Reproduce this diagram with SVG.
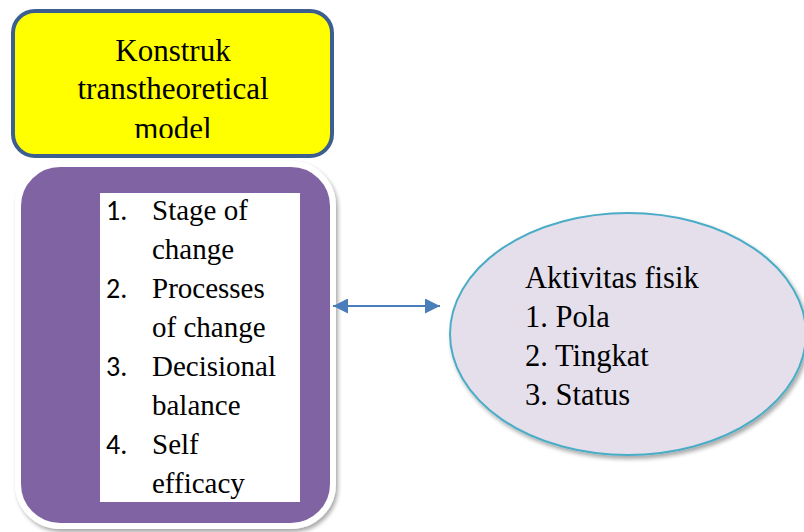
<svg xmlns="http://www.w3.org/2000/svg" width="804" height="532" viewBox="0 0 804 532">
<style>
text{fill:#000}
</style>
<defs>
<filter id="sh" x="-10%" y="-10%" width="130%" height="130%">
<feGaussianBlur in="SourceAlpha" stdDeviation="2"/>
<feOffset dx="2" dy="3" result="b"/>
<feComponentTransfer><feFuncA type="linear" slope="0.35"/></feComponentTransfer>
<feMerge><feMergeNode/><feMergeNode in="SourceGraphic"/></feMerge>
</filter>
<clipPath id="yc"><rect x="12" y="10" width="321" height="128"/></clipPath>
<marker id="ah" viewBox="0 0 10 10" refX="10" refY="5" markerWidth="15" markerHeight="15" markerUnits="userSpaceOnUse" orient="auto-start-reverse">
<path d="M0,0 L10,5 L0,10 z" fill="#4a7ebb"/>
</marker>
</defs>
<rect width="804" height="532" fill="#fff"/>
<g id="konstruk">
<rect x="13" y="11" width="319" height="145" rx="22" fill="#ffff00" stroke="#3c5f8f" stroke-width="4"/>
<g clip-path="url(#yc)" font-family="'Liberation Serif', 'Times New Roman', serif" font-size="31" text-anchor="middle">
<text x="173" y="61">Konstruk</text>
<text x="173" y="99">transtheoretical</text>
<text x="173" y="139">model</text>
</g>
</g>
<g id="list">
<rect x="18" y="164" width="315" height="362" rx="42" fill="#8064a2" stroke="#fff" stroke-width="6" filter="url(#sh)"/>
<rect x="100" y="193" width="200" height="309" fill="#fff"/>
<g font-family="Carlito, 'Liberation Sans', Arial, sans-serif" font-size="28">
<text x="106" y="220">1.</text>
<text x="106" y="298">2.</text>
<text x="106" y="376">3.</text>
<text x="106" y="454">4.</text>
</g>
<g font-family="'Liberation Serif', 'Times New Roman', serif" font-size="29">
<text x="152" y="220">Stage of</text>
<text x="152" y="259">change</text>
<text x="152" y="298">Processes</text>
<text x="152" y="337">of change</text>
<text x="152" y="376">Decisional</text>
<text x="152" y="415">balance</text>
<text x="152" y="454">Self</text>
<text x="152" y="493">efficacy</text>
</g>
</g>
<g id="aktivitas">
<ellipse cx="628" cy="334" rx="178" ry="121" fill="#e5dfec" stroke="#4bacc6" stroke-width="2" filter="url(#sh)"/>
<g font-family="'Liberation Serif', 'Times New Roman', serif" font-size="30.5">
<text x="525" y="288">Aktivitas fisik</text>
<text x="525" y="327">1. Pola</text>
<text x="525" y="366">2. Tingkat</text>
<text x="525" y="405">3. Status</text>
</g>
</g>
<g id="connectors">
<line x1="333" y1="306" x2="440" y2="306" stroke="#4a7ebb" stroke-width="2" marker-start="url(#ah)" marker-end="url(#ah)"/>
</g>
</svg>
